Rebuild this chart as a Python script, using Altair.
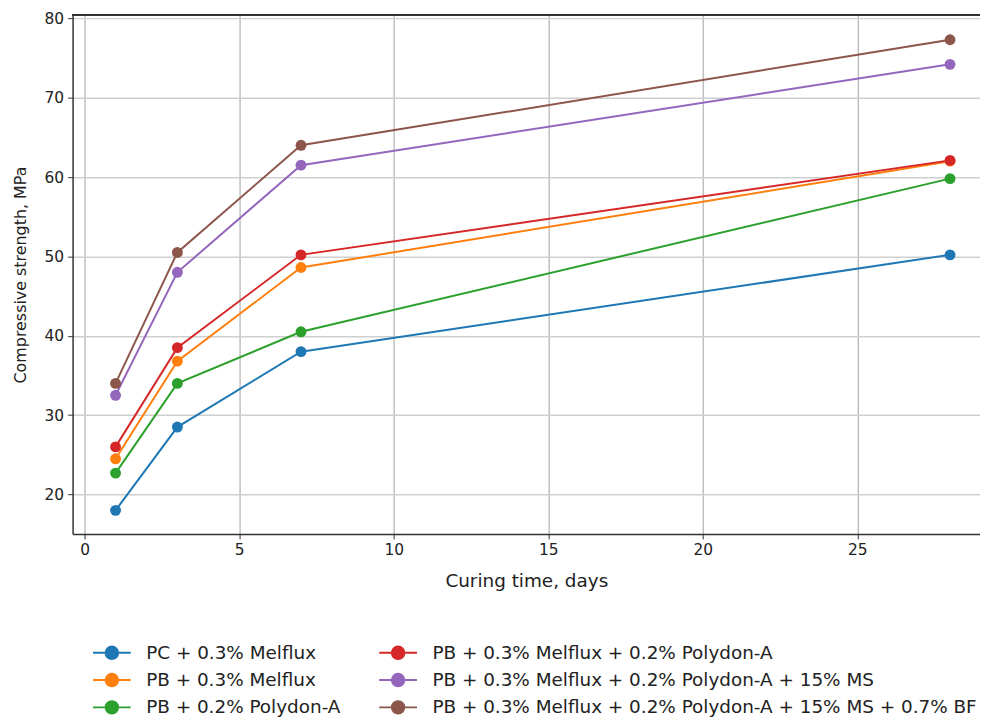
import altair as alt
import pandas as pd

days = [1, 3, 7, 28]
series_names = [
    "PC + 0.3% Melflux",
    "PB + 0.3% Melflux",
    "PB + 0.2% Polydon-A",
    "PB + 0.3% Melflux + 0.2% Polydon-A",
    "PB + 0.3% Melflux + 0.2% Polydon-A + 15% MS",
    "PB + 0.3% Melflux + 0.2% Polydon-A + 15% MS + 0.7% BF",
]
pc_melflux = [18.0, 28.5, 38.0, 50.2]
pb_melflux = [24.5, 36.8, 48.6, 62.0]
pb_polydon = [22.7, 34.0, 40.5, 59.8]
pb_mel_poly = [26.0, 38.5, 50.2, 62.1]
pb_mel_poly_ms = [32.5, 48.0, 61.5, 74.2]
pb_mel_poly_ms_bf = [34.0, 50.5, 64.0, 77.3]
colors = ["#1f77b4", "#ff7f0e", "#2ca02c", "#d62728", "#9467bd", "#8c564b"]

all_values = [pc_melflux, pb_melflux, pb_polydon, pb_mel_poly, pb_mel_poly_ms, pb_mel_poly_ms_bf]
rows = []
for name, vals in zip(series_names, all_values):
    for d, v in zip(days, vals):
        rows.append({"day": d, "strength": v, "series": name})
df = pd.DataFrame(rows)

W, H = 913, 522

xs = alt.X("day:Q", title="Curing time, days",
           scale=alt.Scale(domain=[-0.39, 28.97], nice=False, zero=False),
           axis=alt.Axis(values=[0, 5, 10, 15, 20, 25], gridColor="#a0a0a0", gridWidth=1,
                         titlePadding=13, titleFontSize=18.5))
ys = alt.Y("strength:Q", title="Compressive strength, MPa",
           scale=alt.Scale(domain=[15.03, 80.4], nice=False, zero=False),
           axis=alt.Axis(values=[20, 30, 40, 50, 60, 70, 80], gridColor="#cfcfcf", gridWidth=1.5,
                         titlePadding=16, titleFontSize=16))
color = alt.Color("series:N", sort=series_names,
                  scale=alt.Scale(domain=series_names, range=colors),
                  legend=alt.Legend(title=None, orient="none", legendX=29, legendY=631,
                                    columns=2, columnPadding=34, rowPadding=6.5,
                                    labelFontSize=18.5, labelFont="DejaVu Sans", labelColor="#222",
                                    symbolType="M -2 0 H 2 M 0.66 0 A 0.66 0.66 0 1 1 -0.66 0 A 0.66 0.66 0 1 1 0.66 0 Z",
                                    symbolSize=361, symbolStrokeWidth=2, labelOffset=24,
                                    labelLimit=700))

lines = alt.Chart(df).mark_line(strokeWidth=2).encode(x=xs, y=ys, color=color, detail="series:N")
points = alt.Chart(df).mark_point(filled=True, size=120, opacity=1).encode(x=xs, y=ys, color=color)
top = alt.Chart(df).mark_rule(color="#333", strokeWidth=1.5).encode(
    x=alt.value(0), x2=alt.value(W), y=alt.value(0))

chart = alt.layer(lines, points, top).properties(
    width=W, height=H,
    autosize=alt.AutoSizeParams(type="none"),
    padding={"left": 65, "top": 5, "right": 0, "bottom": 183},
).configure_view(stroke=None).configure_axis(
    labelFont="DejaVu Sans", titleFont="DejaVu Sans", labelFontSize=15.5,
    titleFontWeight="normal", labelColor="#222", titleColor="#222",
    domainColor="#333", domainWidth=1.5, tickColor="#333", tickSize=5,
    labelPadding=4,
)

chart.save("out.html", embed_options={"renderer": "svg", "actions": False})
